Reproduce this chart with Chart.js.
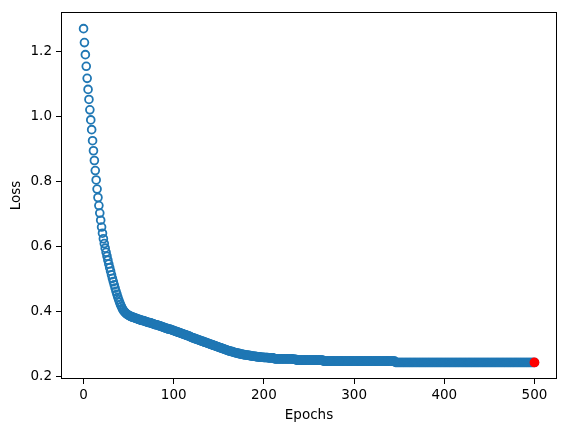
<!DOCTYPE html>
<html>
<head>
<meta charset="utf-8">
<script src="https://cdn.jsdelivr.net/npm/chart.js@4.4.1/dist/chart.umd.min.js"></script>
<style>
  html, body { margin: 0; padding: 0; background: #fff; }
  canvas { display: block; }
</style>
</head>
<body>
<canvas id="lossChart" width="567" height="433"></canvas>
<script>
// loss per epoch (epoch 0 .. 500)
const loss = [
  1.271, 1.228, 1.191, 1.155, 1.118, 1.084, 1.053, 1.021, 0.990, 0.960,
  0.926, 0.895, 0.865, 0.834, 0.805, 0.777, 0.751, 0.726, 0.703, 0.681,
  0.660, 0.641, 0.624, 0.609, 0.595, 0.582, 0.570, 0.558, 0.546, 0.535,
  0.524, 0.513, 0.502, 0.492, 0.482, 0.472, 0.462, 0.453, 0.444, 0.436,
  0.428, 0.421, 0.415, 0.409, 0.404, 0.400, 0.397, 0.394, 0.392, 0.390,
  0.388, 0.387, 0.385, 0.384, 0.383, 0.382, 0.381, 0.380, 0.379, 0.378,
  0.377, 0.376, 0.375, 0.374, 0.373, 0.372, 0.372, 0.371, 0.370, 0.369,
  0.368, 0.367, 0.366, 0.366, 0.365, 0.364, 0.363, 0.362, 0.361, 0.360,
  0.359, 0.359, 0.358, 0.357, 0.356, 0.355, 0.354, 0.353, 0.352, 0.351,
  0.350, 0.349, 0.348, 0.347, 0.346, 0.346, 0.345, 0.344, 0.343, 0.342,
  0.341, 0.340, 0.339, 0.338, 0.337, 0.336, 0.335, 0.334, 0.333, 0.332,
  0.331, 0.330, 0.329, 0.328, 0.327, 0.326, 0.325, 0.324, 0.323, 0.321,
  0.320, 0.319, 0.318, 0.317, 0.316, 0.315, 0.314, 0.313, 0.312, 0.311,
  0.310, 0.309, 0.308, 0.307, 0.306, 0.305, 0.304, 0.303, 0.302, 0.301,
  0.300, 0.299, 0.298, 0.297, 0.296, 0.295, 0.294, 0.293, 0.292, 0.291,
  0.290, 0.289, 0.288, 0.287, 0.286, 0.285, 0.284, 0.283, 0.282, 0.281,
  0.280, 0.279, 0.278, 0.277, 0.277, 0.276, 0.275, 0.274, 0.273, 0.273,
  0.272, 0.271, 0.271, 0.270, 0.269, 0.269, 0.268, 0.267, 0.267, 0.266,
  0.266, 0.266, 0.265, 0.265, 0.264, 0.264, 0.263, 0.263, 0.262, 0.262,
  0.262, 0.261, 0.261, 0.260, 0.260, 0.260, 0.259, 0.259, 0.259, 0.259,
  0.258, 0.258, 0.258, 0.258, 0.258, 0.257, 0.257, 0.257, 0.257, 0.257,
  0.257, 0.256, 0.254, 0.254, 0.254, 0.254, 0.254, 0.254, 0.254, 0.254,
  0.254, 0.254, 0.254, 0.254, 0.254, 0.254, 0.254, 0.254, 0.254, 0.254,
  0.254, 0.254, 0.253, 0.253, 0.253, 0.253, 0.250, 0.250, 0.250, 0.250,
  0.250, 0.250, 0.250, 0.250, 0.250, 0.250, 0.250, 0.250, 0.250, 0.250,
  0.250, 0.250, 0.250, 0.250, 0.250, 0.250, 0.250, 0.250, 0.250, 0.250,
  0.250, 0.250, 0.250, 0.250, 0.250, 0.250, 0.247, 0.247, 0.247, 0.247,
  0.247, 0.247, 0.247, 0.247, 0.247, 0.247, 0.247, 0.247, 0.247, 0.247,
  0.247, 0.247, 0.247, 0.247, 0.247, 0.247, 0.247, 0.247, 0.247, 0.247,
  0.247, 0.247, 0.247, 0.247, 0.247, 0.247, 0.247, 0.247, 0.247, 0.247,
  0.247, 0.247, 0.247, 0.247, 0.247, 0.247, 0.247, 0.247, 0.247, 0.247,
  0.247, 0.247, 0.247, 0.247, 0.247, 0.247, 0.247, 0.247, 0.247, 0.247,
  0.247, 0.247, 0.247, 0.247, 0.247, 0.247, 0.247, 0.247, 0.247, 0.247,
  0.247, 0.247, 0.247, 0.247, 0.247, 0.247, 0.247, 0.247, 0.247, 0.247,
  0.247, 0.247, 0.247, 0.247, 0.247, 0.247, 0.243, 0.243, 0.243, 0.243,
  0.243, 0.243, 0.243, 0.243, 0.243, 0.243, 0.243, 0.243, 0.243, 0.243,
  0.243, 0.243, 0.243, 0.243, 0.243, 0.243, 0.243, 0.243, 0.243, 0.243,
  0.243, 0.243, 0.243, 0.243, 0.243, 0.243, 0.243, 0.243, 0.243, 0.243,
  0.243, 0.243, 0.243, 0.243, 0.243, 0.243, 0.243, 0.243, 0.243, 0.243,
  0.243, 0.243, 0.243, 0.243, 0.243, 0.243, 0.243, 0.243, 0.243, 0.243,
  0.243, 0.243, 0.243, 0.243, 0.243, 0.243, 0.243, 0.243, 0.243, 0.243,
  0.243, 0.243, 0.243, 0.243, 0.243, 0.243, 0.243, 0.243, 0.243, 0.243,
  0.243, 0.243, 0.243, 0.243, 0.243, 0.243, 0.243, 0.243, 0.243, 0.243,
  0.243, 0.243, 0.243, 0.243, 0.243, 0.243, 0.243, 0.243, 0.243, 0.243,
  0.243, 0.243, 0.243, 0.243, 0.243, 0.243, 0.243, 0.243, 0.243, 0.243,
  0.243, 0.243, 0.243, 0.243, 0.243, 0.243, 0.243, 0.243, 0.243, 0.243,
  0.243, 0.243, 0.243, 0.243, 0.243, 0.243, 0.243, 0.243, 0.243, 0.243,
  0.243, 0.243, 0.243, 0.243, 0.243, 0.243, 0.243, 0.243, 0.243, 0.243,
  0.243, 0.243, 0.243, 0.243, 0.243, 0.243, 0.243, 0.243, 0.243, 0.243,
  0.243, 0.243, 0.243, 0.243, 0.243, 0.243, 0.243, 0.243, 0.243, 0.243,
  0.243
];
const epochs = loss.map((v, i) => i);

// final point, highlighted in red
const lastEpoch = [500];
const lastLoss = [0.243];

const xTicks = [0, 100, 200, 300, 400, 500];
const yTicks = [0.2, 0.4, 0.6, 0.8, 1.0, 1.2];

const FONT = { family: "'DejaVu Sans', sans-serif", size: 13.5 };

// matplotlib style frame round the plot area
const frame = {
  id: "frame",
  afterDatasetsDraw(chart) {
    const a = chart.chartArea;
    const ctx = chart.ctx;
    ctx.save();
    ctx.strokeStyle = "#000";
    ctx.lineWidth = 1;
    ctx.strokeRect(Math.round(a.left) + 0.5, Math.round(a.top) + 0.5,
      Math.round(a.right - a.left) - 1, Math.round(a.bottom - a.top) - 1);
    ctx.restore();
  }
};

new Chart(document.getElementById("lossChart"), {
  type: "scatter",
  data: {
    datasets: [
      {
        data: lastEpoch.map((x, i) => ({ x: x, y: lastLoss[i] })),
        backgroundColor: "#ff0000",
        borderColor: "#ff0000",
        pointRadius: 4,
        borderWidth: 1.8,
        order: 0
      },
      {
        data: epochs.map((x, i) => ({ x: x, y: loss[i] })),
        backgroundColor: "rgba(0,0,0,0)",
        borderColor: "#1f77b4",
        pointRadius: 3.9,
        borderWidth: 1.8,
        order: 1
      }
    ]
  },
  options: {
    responsive: false,
    animation: false,
    devicePixelRatio: 1,
    layout: { padding: { top: 10, right: 10, left: 0, bottom: 0 } },
    plugins: {
      legend: { display: false },
      tooltip: { enabled: false }
    },
    scales: {
      x: {
        type: "linear",
        min: -25,
        max: 525,
        afterBuildTicks: (axis) => { axis.ticks = xTicks.map(v => ({ value: v })); },
        afterFit: (axis) => { axis.height = 54; },
        grid: { drawOnChartArea: false, drawTicks: true, tickLength: 5, color: "#000", lineWidth: 1 },
        border: { display: false },
        ticks: { color: "#000", font: FONT, padding: 3, maxRotation: 0, callback: v => String(v) },
        title: { display: true, text: "Epochs", color: "#000", font: FONT, padding: { top: 4, bottom: 9 } }
      },
      y: {
        type: "linear",
        min: 0.192,
        max: 1.322,
        afterBuildTicks: (axis) => { axis.ticks = yTicks.map(v => ({ value: v })); },
        afterFit: (axis) => { axis.width = 61; },
        grid: { drawOnChartArea: false, drawTicks: true, tickLength: 5, color: "#000", lineWidth: 1 },
        border: { display: false },
        ticks: { color: "#000", font: FONT, padding: 4, callback: v => Number(v).toFixed(1) },
        title: { display: true, text: "Loss", color: "#000", font: FONT, padding: { top: 8, bottom: 4 } }
      }
    }
  },
  plugins: [frame]
});
</script>
</body>
</html>
